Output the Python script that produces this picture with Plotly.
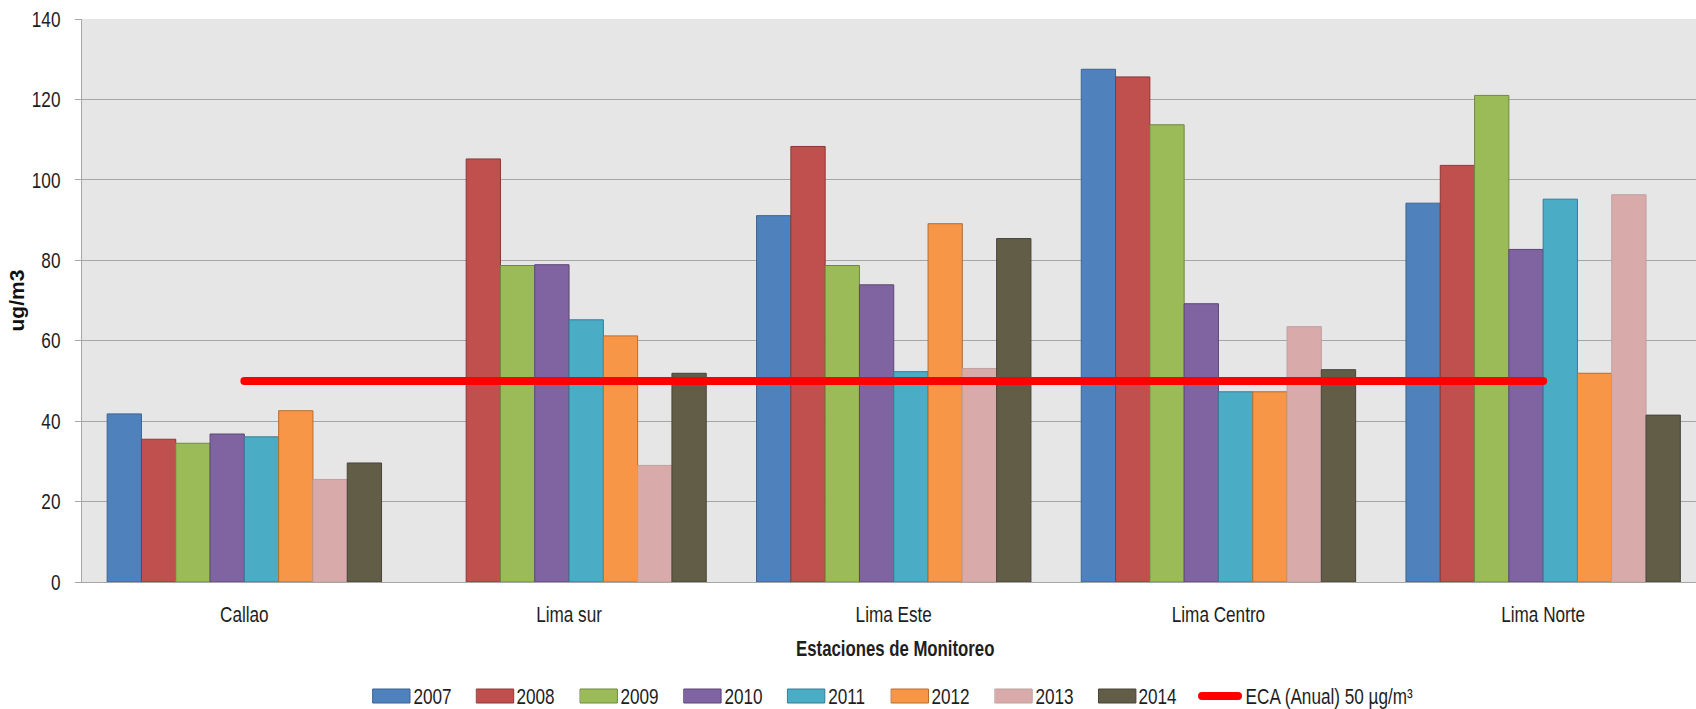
import plotly.graph_objects as go

# Annual PM concentrations by monitoring station (ug/m3)
estaciones = ["Callao", "Lima sur", "Lima Este", "Lima Centro", "Lima Norte"]
anios = ["2007", "2008", "2009", "2010", "2011", "2012", "2013", "2014"]

v2007 = [41.8, None, 91.1, 127.5, 94.2]
v2008 = [35.5, 105.2, 108.3, 125.6, 103.6]
v2009 = [34.5, 78.7, 78.7, 113.7, 121.0]
v2010 = [36.8, 78.9, 73.9, 69.2, 82.7]
v2011 = [36.1, 65.2, 52.3, 47.3, 95.2]
v2012 = [42.6, 61.2, 89.1, 47.3, 51.9]
v2013 = [25.5, 29.0, 53.1, 63.5, 96.3]
v2014 = [29.6, 51.9, 85.4, 52.8, 41.5]

eca_valor = 50
eca_texto = "ECA (Anual) 50 µg/m³"

colores = ["#4F81BD", "#C0504D", "#9BBB59", "#8064A2",
           "#4BACC6", "#F79646", "#D9AAAA", "#625D46"]
bordes = ["#3A6494", "#8C3836", "#71893F", "#5C4776",
          "#357D91", "#B66D31", "#BFA0A0", "#48443A"]

series = [v2007, v2008, v2009, v2010, v2011, v2012, v2013, v2014]

W, H = 1696, 709
L, R, T, B = 82, 0, 19, 127
CAT_PX = 324.7  # pixel width of one station slot

FONT = "Liberation Sans, Arial, sans-serif"
TXT = "#1E1E1E"
GRID = "#A6A6A6"
FS = 22

fig = go.Figure()

for anio, vals, c, bc in zip(anios, series, colores, bordes):
    fig.add_trace(go.Bar(
        x=estaciones, y=vals, name=anio,
        marker=dict(color=c, line=dict(color=bc, width=1)),
        showlegend=False,
    ))

fig.add_trace(go.Scatter(
    x=estaciones, y=[eca_valor] * len(estaciones), mode="lines",
    name=eca_texto, line=dict(color="#FF0000", width=8),
    showlegend=False,
))

plot_w = W - L - R
plot_h = H - T - B


def px_x(px):
    return (px - L) / plot_w


def px_y(py):
    return (H - B - py) / plot_h


# Legend drawn below the axis: swatch + label per series
leg_x0 = 373
leg_step = 103.7
sw_w, sw_top, sw_bot = 37, 689, 703
leg_cy = 696

shapes = []
annotations = []
for i, (anio, c, bc) in enumerate(zip(anios, colores, bordes)):
    x0 = leg_x0 + i * leg_step
    shapes.append(dict(
        type="rect", xref="paper", yref="paper",
        x0=px_x(x0), x1=px_x(x0 + sw_w), y0=px_y(sw_bot), y1=px_y(sw_top),
        fillcolor=c, line=dict(color=bc, width=1),
    ))
    annotations.append(dict(
        text=anio, xref="paper", yref="paper", x=px_x(x0 + 59), y=px_y(leg_cy),
        xanchor="center", yanchor="middle", showarrow=False,
        font=dict(family=FONT, size=FS, color=TXT),
    ))

shapes.append(dict(
    type="line", xref="paper", yref="paper",
    x0=px_x(1202), x1=px_x(1238), y0=px_y(leg_cy), y1=px_y(leg_cy),
    line=dict(color="#FF0000", width=8),
))
annotations.append(dict(
    text=eca_texto, xref="paper", yref="paper", x=px_x(1328.5), y=px_y(leg_cy),
    xanchor="center", yanchor="middle", showarrow=False,
    font=dict(family=FONT, size=FS, color=TXT),
))

# axis titles
annotations.append(dict(
    text="<b>Estaciones de Monitoreo</b>", xref="paper", yref="paper",
    x=px_x(895), y=px_y(649), xanchor="center", yanchor="middle", showarrow=False,
    font=dict(family=FONT, size=21.5, color=TXT),
))
annotations.append(dict(
    text="<b>ug/m3</b>", xref="paper", yref="paper", textangle=-90,
    x=px_x(16), y=px_y(300.5), xanchor="center", yanchor="middle", showarrow=False,
    font=dict(family=FONT, size=21, color="#111111"),
))

fig.update_layout(
    width=W, height=H,
    margin=dict(l=L, r=R, t=T, b=B, pad=0),
    paper_bgcolor="white",
    plot_bgcolor="#E6E6E6",
    barmode="group",
    bargap=0.155,
    bargroupgap=0,
    shapes=shapes,
    annotations=annotations,
    font=dict(family=FONT, size=FS, color=TXT),
)

fig.update_xaxes(
    range=[-0.5, -0.5 + plot_w / CAT_PX],
    showline=True, linecolor=GRID, linewidth=1.3,
    ticks="", showgrid=False, zeroline=False,
    tickfont=dict(family=FONT, size=FS, color=TXT),
    ticklabelstandoff=12,
)

fig.update_yaxes(
    range=[0, 140], dtick=20,
    showline=True, linecolor=GRID, linewidth=1.3,
    ticks="outside", ticklen=6, tickcolor=GRID, tickwidth=1.3,
    showgrid=True, gridcolor=GRID, gridwidth=1.3, zeroline=False,
    tickfont=dict(family=FONT, size=FS, color=TXT),
    ticklabelstandoff=10,
)

# Condensed text look: narrow each label horizontally about its anchor,
# and give the ECA lines rounded ends.
post_js = """
var gd = document.getElementById('{plot_id}');
gd.querySelectorAll('.xtick text, .ytick text, .annotation-text').forEach(function (t) {
    if (t.textContent === 'ug/m3') { return; }
    var x = parseFloat(t.getAttribute('x')) || 0;
    var tr = t.getAttribute('transform') || '';
    t.setAttribute('transform', tr + ' translate(' + x + ',0) scale(0.78,1) translate(' + (-x) + ',0)');
});
gd.querySelectorAll('.scatterlayer .js-line, .shapelayer path').forEach(function (p) {
    p.style.strokeLinecap = 'round';
});
"""

fig.write_html("out.html", post_script=post_js)
